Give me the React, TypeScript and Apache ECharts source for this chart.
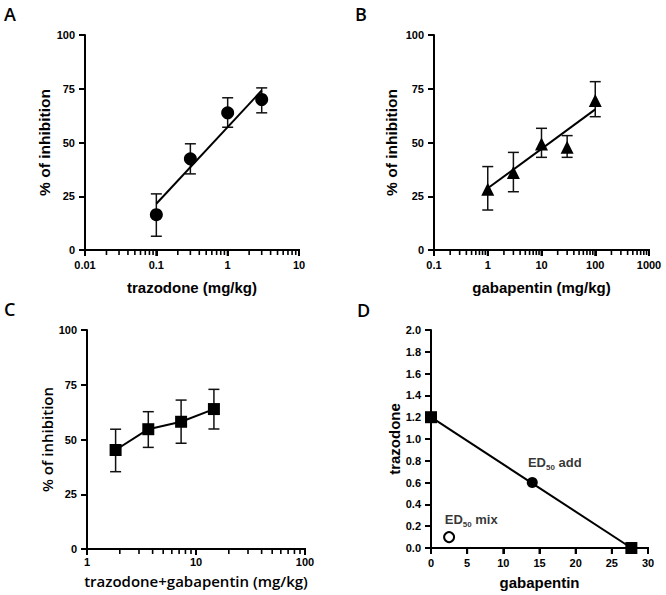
import React, { useEffect, useRef } from "react";
import * as echarts from "echarts";

// Panel A: trazodone dose-response
const doseA = [0.1, 0.3, 1, 3];
const meanA = [16.4, 42.4, 63.8, 70];
const lowA = [6.4, 35.4, 57.1, 63.8];
const highA = [26.1, 49.4, 70.8, 75.4];
const fitA = [[0.1, 21.5], [3, 74.2]];

// Panel B: gabapentin dose-response
const doseB = [1, 3, 10, 30, 100];
const meanB = [28.2, 36.1, 49.3, 47.8, 69.5];
const lowB = [18.6, 27.1, 43.1, 43.1, 62];
const highB = [38.8, 45.4, 56.6, 53.2, 78.3];
const fitB = [[1, 28.7], [100, 65.4]];

// Panel C: combination dose-response
const doseC = [1.83, 3.65, 7.3, 14.6];
const meanC = [45.2, 54.7, 58.1, 63.9];
const lowC = [35.3, 46.4, 48.3, 54.8];
const highC = [54.7, 62.7, 68, 72.9];

// Panel D: isobologram [gabapentin, trazodone]
const ed50Trazodone = [0, 1.2];
const ed50Gabapentin = [27.7, 0];
const ed50Add = [14, 0.6];
const ed50Mix = [2.5, 0.1];
const labelAdd = [13.4, 0.79];
const labelMix = [1.9, 0.27];

// tick positions
const decadesA = [0.01, 0.1, 1, 10];
const decadesB = [0.1, 1, 10, 100, 1000];
const decadesC = [1, 10, 100];
const minorMultipliers = [2, 3, 4, 5, 6, 7, 8, 9];
const ticksD = [0, 5, 10, 15, 20, 25, 30];

const SANS = "Liberation Sans";
const C_FONT = "Open Sans";

function minorValues(decades: number[]) {
  return decades
    .slice(0, -1)
    .flatMap((d) => minorMultipliers.map((m) => Number((m * d).toPrecision(6))));
}

function fmtLog(v: number) {
  return String(Number(v.toPrecision(6)));
}

function errorSeries(idx: number, xs: number[], lo: number[], hi: number[]) {
  return {
    type: "custom",
    xAxisIndex: idx,
    yAxisIndex: idx,
    silent: true,
    z: 2,
    encode: { x: 0, y: [1, 2] },
    data: xs.map((x, i) => [x, lo[i], hi[i]]),
    renderItem: (_p: any, api: any) => {
      const top = api.coord([api.value(0), api.value(2)]);
      const bot = api.coord([api.value(0), api.value(1)]);
      const w = 5.5;
      const st = { stroke: "#111", lineWidth: 1.5 };
      return {
        type: "group",
        children: [
          { type: "line", shape: { x1: top[0], y1: top[1], x2: bot[0], y2: bot[1] }, style: st },
          { type: "line", shape: { x1: top[0] - w, y1: top[1], x2: top[0] + w, y2: top[1] }, style: st },
          { type: "line", shape: { x1: bot[0] - w, y1: bot[1], x2: bot[0] + w, y2: bot[1] }, style: st },
        ],
      };
    },
  };
}

const axisCommon = {
  axisLine: { show: true, onZero: false, lineStyle: { color: "#000", width: 2 } },
  axisTick: { show: true, length: 6, lineStyle: { color: "#000", width: 2 } },
  splitLine: { show: false },
  minorTick: { show: false },
};

function labelStyle(margin: number) {
  return { color: "#000", fontFamily: SANS, fontWeight: "bold", fontSize: 11, margin };
}

function nameStyle(font: string, size: number, weight: any) {
  return { color: "#000", fontFamily: font, fontWeight: weight, fontSize: size };
}

const letters = [
  { type: "text", x: 4, y: 14, style: { text: "A", fontFamily: C_FONT, fontSize: 18, fontWeight: 600, fill: "#000", verticalAlign: "middle" } },
  { type: "text", x: 355, y: 14, style: { text: "B", fontFamily: C_FONT, fontSize: 18, fontWeight: 600, fill: "#000", verticalAlign: "middle" } },
  { type: "text", x: 4, y: 309, style: { text: "C", fontFamily: C_FONT, fontSize: 18, fontWeight: 600, fill: "#000", verticalAlign: "middle" } },
  { type: "text", x: 357, y: 310, style: { text: "D", fontFamily: C_FONT, fontSize: 18, fontWeight: 600, fill: "#000", verticalAlign: "middle" } },
];

export default function App() {
  const ref = useRef<HTMLDivElement>(null);
  useEffect(() => {
    if (!ref.current) return;
    const chart = echarts.init(ref.current, null, { renderer: "svg" });
    const pctY = (idx: number, gap: number, font: string, size: number, weight: any) => ({
      type: "value",
      gridIndex: idx,
      min: 0,
      max: 100,
      interval: 25,
      name: "% of inhibition",
      nameLocation: "middle",
      nameGap: gap,
      nameTextStyle: nameStyle(font, size, weight),
      ...axisCommon,
      axisLabel: labelStyle(10),
    });
    const logX = (idx: number, min: number, max: number, name: string, gap: number, margin: number, font: string, size: number, weight: any) => ({
      type: "log",
      logBase: 10,
      gridIndex: idx,
      min,
      max,
      name,
      nameLocation: "middle",
      nameGap: gap,
      nameTextStyle: nameStyle(font, size, weight),
      ...axisCommon,
      axisLabel: { ...labelStyle(margin), formatter: (v: number) => fmtLog(v) },
    });

    const option: any = {
      animation: false,
      backgroundColor: "#fff",
      grid: [
        { left: 85, top: 35, width: 214, height: 215, outerBoundsMode: "none" },
        { left: 434, top: 35, width: 215, height: 215, outerBoundsMode: "none" },
        { left: 87, top: 330, width: 218, height: 219, outerBoundsMode: "none" },
        { left: 431, top: 330, width: 217, height: 218, outerBoundsMode: "none" },
      ],
      xAxis: [
        logX(0, 0.01, 10, "trazodone (mg/kg)", 30, 9, SANS, 15, "bold"),
        logX(1, 0.1, 1000, "gabapentin (mg/kg)", 30, 9, SANS, 15, "bold"),
        logX(2, 1, 100, "trazodone+gabapentin (mg/kg)", 24, 7, C_FONT, 15, 600),
        {
          type: "value",
          gridIndex: 3,
          min: 0,
          max: 30,
          interval: 5,
          name: "gabapentin",
          nameLocation: "middle",
          nameGap: 27,
          nameTextStyle: nameStyle(SANS, 15, "bold"),
          ...axisCommon,
          axisLabel: labelStyle(9.5),
        },
      ],
      yAxis: [
        pctY(0, 33, SANS, 15.5, "bold"),
        pctY(1, 35, SANS, 15.5, "bold"),
        pctY(2, 30, C_FONT, 15, 600),
        {
          type: "value",
          gridIndex: 3,
          min: 0,
          max: 2,
          interval: 0.2,
          name: "trazodone",
          nameLocation: "middle",
          nameGap: 29,
          nameTextStyle: nameStyle(SANS, 15, "bold"),
          ...axisCommon,
          axisLabel: { ...labelStyle(10), formatter: (v: number) => v.toFixed(1) },
        },
      ],
      graphic: letters,
      series: [
        // A
        errorSeries(0, doseA, lowA, highA),
        { type: "line", xAxisIndex: 0, yAxisIndex: 0, data: fitA, symbol: "none", lineStyle: { color: "#000", width: 2 }, z: 3, silent: true },
        { type: "scatter", xAxisIndex: 0, yAxisIndex: 0, data: doseA.map((x, i) => [x, meanA[i]]), symbol: "circle", symbolSize: 13, itemStyle: { color: "#000", opacity: 1 }, z: 4, silent: true },
        // B
        errorSeries(1, doseB, lowB, highB),
        { type: "line", xAxisIndex: 1, yAxisIndex: 1, data: fitB, symbol: "none", lineStyle: { color: "#000", width: 2 }, z: 3, silent: true },
        { type: "scatter", xAxisIndex: 1, yAxisIndex: 1, data: doseB.map((x, i) => [x, meanB[i]]), symbol: "triangle", symbolSize: 13, itemStyle: { color: "#000", opacity: 1 }, z: 4, silent: true },
        // C
        errorSeries(2, doseC, lowC, highC),
        { type: "line", xAxisIndex: 2, yAxisIndex: 2, data: doseC.map((x, i) => [x, meanC[i]]), symbol: "none", lineStyle: { color: "#000", width: 2 }, z: 3, silent: true },
        { type: "scatter", xAxisIndex: 2, yAxisIndex: 2, data: doseC.map((x, i) => [x, meanC[i]]), symbol: "rect", symbolSize: 12, itemStyle: { color: "#000", opacity: 1 }, z: 4, silent: true },
        // D
        { type: "line", xAxisIndex: 3, yAxisIndex: 3, data: [ed50Trazodone, ed50Gabapentin], symbol: "none", lineStyle: { color: "#000", width: 2 }, z: 3, silent: true },
        { type: "scatter", xAxisIndex: 3, yAxisIndex: 3, data: [ed50Trazodone, ed50Gabapentin], symbol: "rect", symbolSize: 12, itemStyle: { color: "#000", opacity: 1 }, z: 6, silent: true, clip: false },
        { type: "scatter", xAxisIndex: 3, yAxisIndex: 3, data: [ed50Add], symbol: "circle", symbolSize: 11, itemStyle: { color: "#000", opacity: 1 }, z: 4, silent: true },
        { type: "scatter", xAxisIndex: 3, yAxisIndex: 3, data: [ed50Mix], symbol: "circle", symbolSize: 10, itemStyle: { color: "#fff", borderColor: "#000", borderWidth: 2, opacity: 1 }, z: 4, silent: true },
        {
          type: "scatter", xAxisIndex: 3, yAxisIndex: 3, silent: true, symbolSize: 0,
          data: [
            { value: labelAdd, name: " add" },
            { value: labelMix, name: " mix" },
          ],
          label: {
            show: true,
            position: "right",
            distance: 0,
            formatter: (p: any) => "{a|ED}{s|50}{a|" + p.name + "}",
            rich: {
              a: { fontFamily: SANS, fontWeight: "bold", fontSize: 13, color: "#000", lineHeight: 15, verticalAlign: "bottom" },
              s: { fontFamily: SANS, fontWeight: "bold", fontSize: 8, color: "#000", lineHeight: 15, verticalAlign: "bottom", padding: [0, 0, -2, 0] },
            },
          },
        },
      ],
    };
    chart.setOption(option);

    // x-axis tick marks drawn through the grids' own scales
    const tickEls: any[] = [];
    const addTick = (idx: number, v: number, len: number, w: number) => {
      const p: any = chart.convertToPixel({ gridIndex: idx } as any, [v, 0]);
      if (!p || !Array.isArray(p) || !isFinite(p[0])) return;
      tickEls.push({
        type: "line",
        z: 100,
        silent: true,
        shape: { x1: p[0], y1: p[1] - 1, x2: p[0], y2: p[1] + len },
        style: { stroke: "#000", lineWidth: w },
      });
    };
    const logSets: [number, number[]][] = [[0, decadesA], [1, decadesB], [2, decadesC]];
    logSets.forEach(([idx, decs]) => {
      decs.forEach((d) => addTick(idx, d, 6, 2));
      minorValues(decs).forEach((v) => addTick(idx, v, 5, 1.6));
    });
    ticksD.forEach((v) => addTick(3, v, 6, 2));
    chart.setOption({ graphic: [...letters, ...tickEls] });

    return () => chart.dispose();
  }, []);
  return (
    <div
      ref={ref}
      style={{ position: "fixed", left: 0, top: 0, width: 666, height: 595, background: "#fff" }}
    />
  );
}
